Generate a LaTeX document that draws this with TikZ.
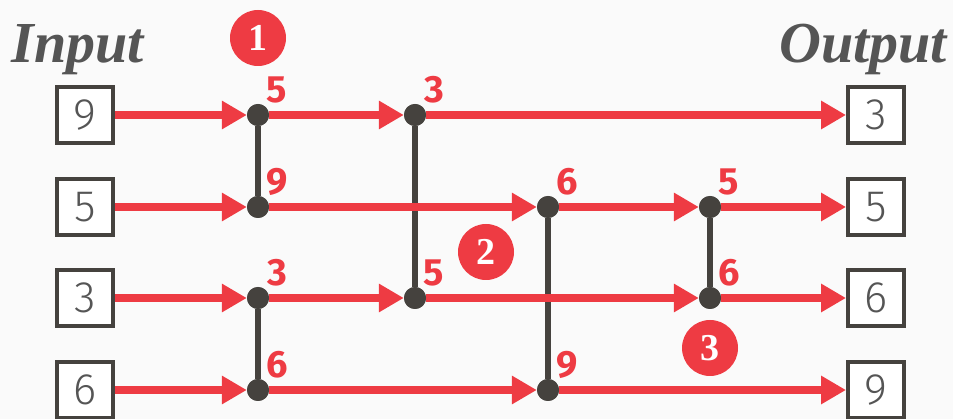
\documentclass[tikz,border=0pt]{standalone}
\usepackage{fontspec}
\setmainfont{Liberation Serif}
\newfontfamily\fira{Fira Sans}
\newfontfamily\firalight{Fira Sans Light}
\usetikzlibrary{arrows.meta}
\definecolor{myred}{HTML}{EE3B43}
\definecolor{mydark}{HTML}{45423E}
\definecolor{mytext}{HTML}{555555}
\definecolor{mybg}{HTML}{FAFAFA}
\begin{document}
\begin{tikzpicture}[x=1pt,y=-1pt,
 valbox/.style={draw=mydark, line width=4pt, fill=white, minimum size=56pt, inner sep=0pt, font=\firalight\fontsize{44}{44}\selectfont, text=mytext},
 dot/.style={circle, fill=mydark, minimum size=22pt, inner sep=0pt},
 wire/.style={draw=myred, line width=8pt},
 arr/.style={wire, -{Triangle[length=25pt,width=27pt]}},
 cmp/.style={draw=mydark, line width=6.5pt},
 lab/.style={text=myred, font=\fira\bfseries\fontsize{38}{38}\selectfont, inner sep=0pt},
 badge/.style={circle, fill=myred, minimum size=56pt, inner sep=0pt, text=white, font=\bfseries\fontsize{38}{38}\selectfont},
 title/.style={text=mytext, font=\bfseries\itshape\fontsize{58}{58}\selectfont, inner sep=0pt, anchor=base}]
\fill[mybg] (0,0) rectangle (953,419);
\useasboundingbox (0,0) rectangle (953,419);

% titles
\node[title] (tin) at (78,63) {Input};
\node[title] (tout) at (863,63) {Output};

% boxes
\node[valbox] (in1) at (85,115) {9};
\node[valbox] (in2) at (85,207) {5};
\node[valbox] (in3) at (85,298) {3};
\node[valbox] (in4) at (85,390) {6};
\node[valbox] (out1) at (876,115) {3};
\node[valbox] (out2) at (876,207) {5};
\node[valbox] (out3) at (876,298) {6};
\node[valbox] (out4) at (876,390) {9};

% dots
\node[dot] (a1) at (258,115) {};
\node[dot] (a2) at (258,207) {};
\node[dot] (a3) at (258,298) {};
\node[dot] (a4) at (258,390) {};
\node[dot] (b1) at (415,115) {};
\node[dot] (b3) at (415,298) {};
\node[dot] (c2) at (548,207) {};
\node[dot] (c4) at (548,390) {};
\node[dot] (e2) at (710,207) {};
\node[dot] (e3) at (710,298) {};

% comparators
\draw[cmp] (a1) -- (a2);
\draw[cmp] (a3) -- (a4);
\draw[cmp] (b1) -- (b3);
\draw[cmp] (c2) -- (c4);
\draw[cmp] (e2) -- (e3);

% wires
\draw[arr] (in1) -- (a1);
\draw[arr] (in2) -- (a2);
\draw[arr] (in3) -- (a3);
\draw[arr] (in4) -- (a4);
\draw[arr] (a1) -- (b1);
\draw[arr] (b1) -- (out1);
\draw[arr] (a2) -- (c2);
\draw[arr] (c2) -- (e2);
\draw[arr] (e2) -- (out2);
\draw[arr] (a3) -- (b3);
\draw[arr] (b3) -- (e3);
\draw[arr] (e3) -- (out3);
\draw[arr] (a4) -- (c4);
\draw[arr] (c4) -- (out4);

% redraw dots on top
\foreach \d in {a1,a2,a3,a4,b1,b3,c2,c4,e2,e3}
  \fill[mydark] (\d.center) circle (11pt);

% labels
\node[lab] (la1) at ([shift={(19pt,25pt)}]a1.center) {5};
\node[lab] (la2) at ([shift={(19pt,25pt)}]a2.center) {9};
\node[lab] (la3) at ([shift={(19pt,25pt)}]a3.center) {3};
\node[lab] (la4) at ([shift={(19pt,25pt)}]a4.center) {6};
\node[lab] (lb1) at ([shift={(19pt,25pt)}]b1.center) {3};
\node[lab] (lb3) at ([shift={(19pt,25pt)}]b3.center) {5};
\node[lab] (lc2) at ([shift={(19pt,25pt)}]c2.center) {6};
\node[lab] (lc4) at ([shift={(19pt,25pt)}]c4.center) {9};
\node[lab] (le2) at ([shift={(19pt,25pt)}]e2.center) {5};
\node[lab] (le3) at ([shift={(19pt,25pt)}]e3.center) {6};

% badges
\node[badge] (s1) at (258,38) {1};
\node[badge] (s2) at (486,252) {2};
\node[badge] (s3) at (710,348) {3};
\end{tikzpicture}
\end{document}
